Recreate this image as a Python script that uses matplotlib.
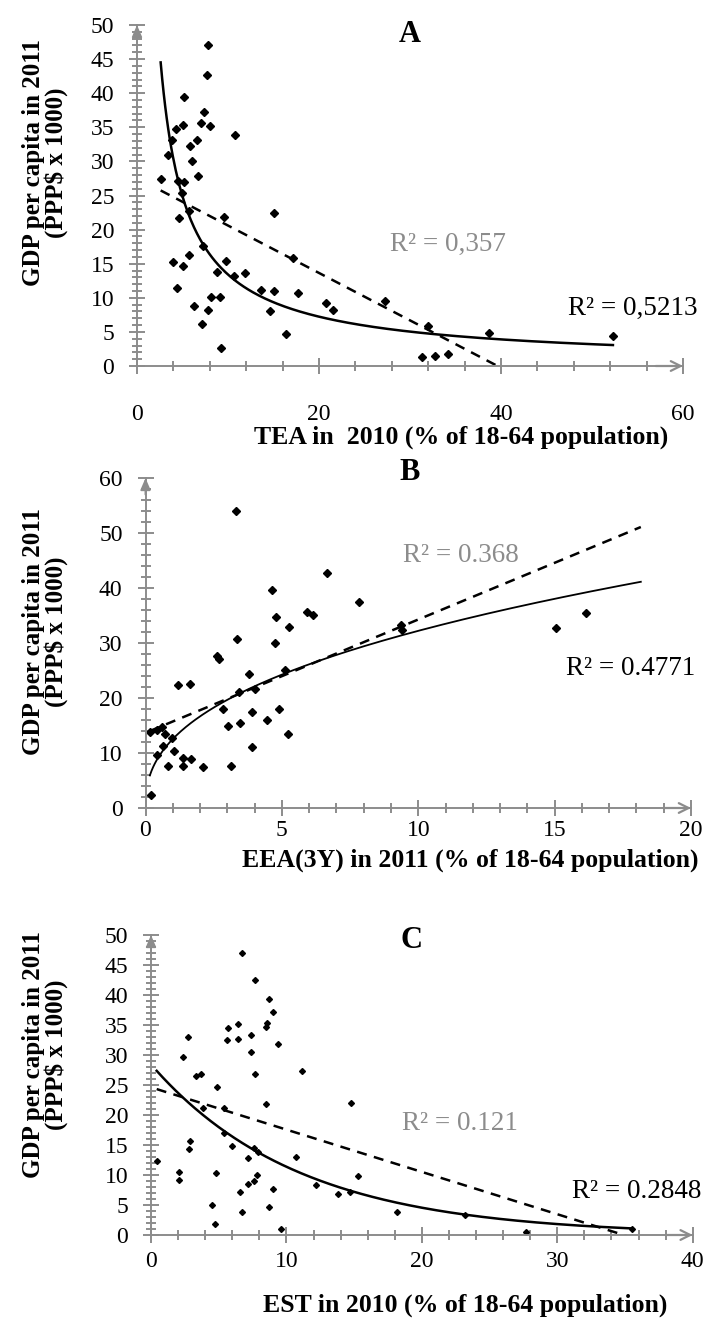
import numpy as np
import matplotlib
matplotlib.use("Agg")
import matplotlib.pyplot as plt
from matplotlib.ticker import MultipleLocator

plt.rcParams['font.family'] = ['Liberation Serif', 'DejaVu Serif']

# --- data ---
# A: TEA 2010 vs GDP per capita 2011
tea_x = [7.8, 7.7, 5.2, 7.4, 5.0, 4.3, 7.0, 8.0, 10.8, 3.9, 6.6, 5.8, 3.4, 6.0,
         2.6, 4.5, 5.2, 6.7, 4.9, 4.6, 5.7, 9.6, 15.1, 7.2, 4.0, 5.7, 5.1, 9.8,
         8.8, 10.7, 11.9, 17.1, 4.4, 13.6, 15.1, 17.7, 8.1, 9.1, 6.3, 7.8, 14.6,
         20.8, 21.5, 27.3, 7.1, 16.4, 9.2, 32.0, 38.7, 52.3, 31.3, 32.8, 34.2]
tea_gdp = [47.1, 42.7, 39.5, 37.2, 35.3, 34.8, 35.7, 35.2, 33.9, 33.1, 33.1, 32.3, 31.0, 30.0,
           27.4, 27.1, 27.0, 27.8, 25.3, 21.7, 22.7, 21.8, 22.5, 17.6, 15.2, 16.3, 14.6, 15.4,
           13.8, 13.2, 13.7, 15.8, 11.4, 11.1, 11.0, 10.7, 10.1, 10.1, 8.8, 8.2, 8.0,
           9.3, 8.2, 9.5, 6.1, 4.7, 2.6, 5.8, 4.9, 4.4, 1.3, 1.5, 1.8]

# B: EEA(3Y) 2011 vs GDP per capita 2011
eea_x = [3.31, 6.65, 4.62, 7.83, 5.92, 6.15, 4.79, 5.26, 3.35, 4.74, 9.38, 9.42, 15.06, 16.16,
         2.63, 2.70, 1.18, 1.63, 3.80, 5.11, 3.42, 4.01, 2.85, 3.91, 4.88, 4.44, 3.02, 3.47,
         5.21, 3.91, 3.13, 0.16, 0.41, 0.62, 0.71, 0.96, 0.63, 0.41, 1.03, 0.84, 1.36, 1.38,
         1.68, 2.11, 0.20]
eea_gdp = [54.0, 42.8, 39.7, 37.4, 35.7, 35.1, 34.8, 33.0, 30.8, 30.0, 33.3, 32.3, 32.8, 35.5,
           27.7, 27.1, 22.3, 22.5, 24.3, 25.1, 21.0, 21.7, 18.05, 17.45, 18.0, 16.05, 14.96, 15.4,
           13.4, 11.1, 7.6, 13.8, 14.2, 14.7, 13.5, 12.8, 11.3, 9.7, 10.3, 7.7, 9.1, 7.7,
           8.9, 7.45, 2.4]

# C: EST 2010 vs GDP per capita 2011
est_x = [6.72, 7.71, 8.69, 8.99, 8.59, 8.49, 6.40, 5.71, 2.71, 5.61, 6.40, 7.41, 9.40, 2.39,
         7.41, 3.30, 3.69, 7.71, 11.17, 4.90, 8.49, 14.79, 3.86, 5.41, 5.41, 2.90, 2.81, 6.00,
         7.63, 7.92, 0.42, 7.19, 10.69, 2.09, 2.09, 4.79, 7.81, 7.19, 7.61, 8.99, 12.19, 15.29,
         6.60, 13.79, 14.70, 4.48, 8.69, 6.70, 18.19, 4.70, 9.60, 23.2, 27.7, 35.5]
est_gdp = [47.05, 42.5, 39.3, 37.1, 35.4, 34.7, 35.1, 34.5, 33.0, 32.5, 32.7, 33.4, 31.9, 29.7,
           30.5, 26.55, 26.9, 26.8, 27.3, 24.7, 21.9, 22.05, 21.1, 21.1, 17.05, 15.6, 14.3, 14.8,
           14.45, 13.8, 12.4, 12.9, 13.05, 10.55, 9.2, 10.3, 10.0, 8.5, 9.0, 7.7, 8.3, 9.8,
           7.1, 6.9, 7.2, 5.0, 4.7, 3.8, 3.9, 1.8, 0.95, 3.3, 0.56, 1.0]

GRAY = '#8c8c8c'
W, H = 708, 1329


def fx(px):
    return px / W


def fy(py):
    return 1 - py / H


fig = plt.figure(figsize=(W / 100, H / 100), dpi=100)


def make_axes(x0, x1, y0, y1):
    return fig.add_axes([fx(x0), fy(y0), (x1 - x0) / W, (y0 - y1) / H])


def style_axes(ax, xmax, ymax, xmaj, xmin_, ymaj, ymin_, xpad):
    ax.set_xlim(0, xmax)
    ax.set_ylim(0, ymax)
    for s in ['top', 'right']:
        ax.spines[s].set_visible(False)
    for s in ['left', 'bottom']:
        ax.spines[s].set_color(GRAY)
        ax.spines[s].set_linewidth(1.4)
    ax.xaxis.set_major_locator(MultipleLocator(xmaj))
    ax.xaxis.set_minor_locator(MultipleLocator(xmin_))
    ax.yaxis.set_major_locator(MultipleLocator(ymaj))
    ax.yaxis.set_minor_locator(MultipleLocator(ymin_))
    ax.tick_params(which='both', direction='inout', color=GRAY, labelcolor='black',
                   labelsize=17, width=1.4)
    ax.tick_params(which='major', length=11)
    ax.tick_params(which='minor', length=7)
    ax.tick_params(axis='y', pad=11)
    ax.tick_params(axis='x', pad=xpad)
    ax.set_facecolor('none')
    arr_x = dict(arrowstyle='->,head_length=0.7,head_width=0.35', color=GRAY, lw=1.6,
                 shrinkA=0, shrinkB=0)
    arr_y = dict(arrowstyle='-|>,head_length=0.7,head_width=0.3', color=GRAY, lw=1.4,
                 shrinkA=0, shrinkB=0)
    ax.annotate('', xy=(1.0, 0), xytext=(0.95, 0), xycoords='axes fraction',
                arrowprops=arr_x, annotation_clip=False)
    ax.annotate('', xy=(0, 1.0), xytext=(0, 0.95), xycoords='axes fraction',
                arrowprops=arr_y, annotation_clip=False)


def lin_fit(x, y, xl):
    return np.polyval(np.polyfit(x, y, 1), xl)


def pow_fit(x, y, xl):
    b, a = np.polyfit(np.log(x), np.log(y), 1)
    return np.exp(a) * xl ** b


def exp_fit(x, y, xl):
    b, a = np.polyfit(x, np.log(y), 1)
    return np.exp(a) * np.exp(b * xl)


def ylabel(px, py):
    fig.text(fx(px), fy(py), "GDP per capita in 2011\n(PPP$ x 1000)", rotation=90,
             ha='center', va='center', fontsize=18, fontweight='bold', linespacing=1.0)


dash = (0, (4, 3))
R2 = 19.5

# ---- Panel A ----
axA = make_axes(137, 683, 366, 25)
style_axes(axA, 60, 50, 20, 4, 5, 1, xpad=22)
x = np.array(tea_x); y = np.array(tea_gdp)
axA.plot(x, y, 'D', color='black', ms=4.5, clip_on=False)
xl = np.linspace(x.min(), x.max(), 300)
axA.plot(xl, lin_fit(x, y, xl), color='black', lw=1.8, ls=dash)
axA.plot(xl, pow_fit(x, y, xl), color='black', lw=1.8)
fig.text(fx(410), fy(34), "A", fontsize=22, fontweight='bold', ha='center', va='center')
fig.text(fx(448), fy(244), "R² = 0,357", fontsize=R2, color=GRAY, ha='center', va='center')
fig.text(fx(633), fy(308), "R² = 0,5213", fontsize=R2, color='black', ha='center', va='center')
fig.text(fx(461), fy(437), "TEA in  2010 (% of 18-64 population)", fontsize=18.5,
         fontweight='bold', ha='center', va='center')
ylabel(45, 163)

# ---- Panel B ----
axB = make_axes(145.5, 691, 808, 478)
style_axes(axB, 20, 60, 5, 1, 10, 2, xpad=3)
x = np.array(eea_x); y = np.array(eea_gdp)
axB.plot(x, y, 'D', color='black', ms=4.5, clip_on=False)
xl = np.linspace(x.min(), x.max() + 2, 300)
axB.plot(xl, lin_fit(x, y, xl), color='black', lw=1.8, ls=dash)
axB.plot(xl, pow_fit(x, y, xl), color='black', lw=1.3)
fig.text(fx(410), fy(473), "B", fontsize=22, fontweight='bold', ha='center', va='center')
fig.text(fx(461), fy(555), "R² = 0.368", fontsize=R2, color=GRAY, ha='center', va='center')
fig.text(fx(631), fy(669), "R² = 0.4771", fontsize=R2, color='black', ha='center', va='center')
fig.text(fx(470), fy(860), "EEA(3Y) in 2011 (% of 18-64 population)", fontsize=18.5,
         fontweight='bold', ha='center', va='center')
ylabel(45, 632)

# ---- Panel C ----
axC = make_axes(151, 692.7, 1235, 935)
style_axes(axC, 40, 50, 10, 2, 5, 1, xpad=6)
x = np.array(est_x); y = np.array(est_gdp)
axC.plot(x, y, 'D', color='black', ms=3, clip_on=False)
xl = np.linspace(x.min(), x.max(), 300)
axC.plot(xl, lin_fit(x, y, xl), color='black', lw=1.8, ls=dash)
axC.plot(xl, exp_fit(x, y, xl), color='black', lw=1.8)
fig.text(fx(412), fy(941), "C", fontsize=22, fontweight='bold', ha='center', va='center')
fig.text(fx(460), fy(1123), "R² = 0.121", fontsize=R2, color=GRAY, ha='center', va='center')
fig.text(fx(637), fy(1192), "R² = 0.2848", fontsize=R2, color='black', ha='center', va='center')
fig.text(fx(465), fy(1305), "EST in 2010 (% of 18-64 population)", fontsize=18.5,
         fontweight='bold', ha='center', va='center')
ylabel(45, 1055)

fig.savefig("out.png", dpi=100)
